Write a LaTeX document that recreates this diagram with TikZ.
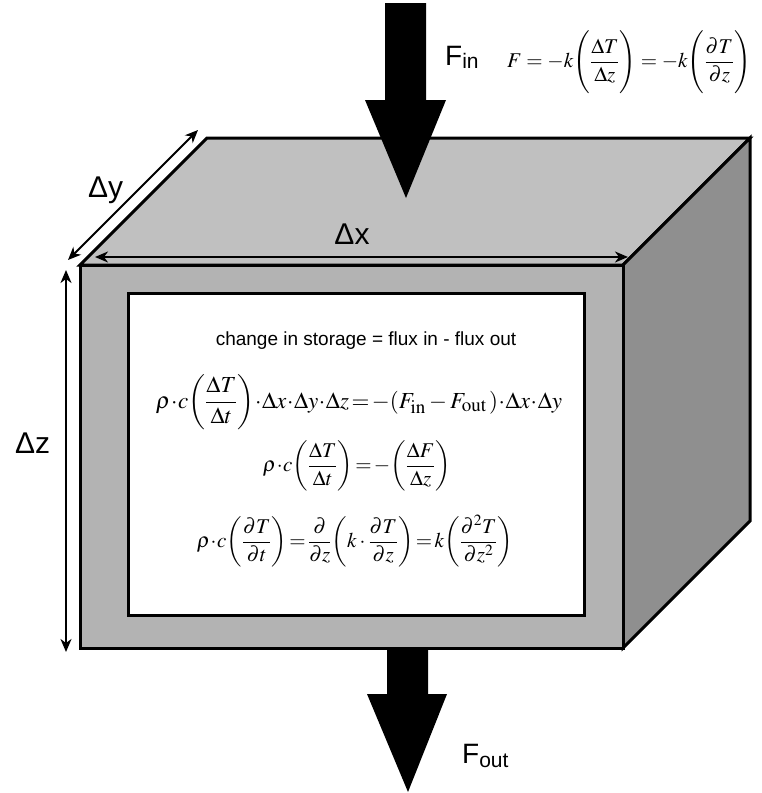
\documentclass[tikz,border=0pt]{standalone}
\usepackage{amsmath}
\usepackage{mathptmx}
\usepackage[no-math]{fontspec}
\setmainfont{Liberation Sans}
\usetikzlibrary{arrows.meta}
\definecolor{topgray}{RGB}{192,192,192}
\definecolor{frontgray}{RGB}{179,179,179}
\definecolor{sidegray}{RGB}{143,143,143}
\newcommand{\tallpar}[1]{\!\left(\rule[-24pt]{0pt}{60pt}#1\right)}
\newcommand{\bigsub}[1]{\mbox{\fontsize{19}{19}\selectfont$\mathrm{#1}$}}
\tikzset{
  face/.style={draw=black,line width=3pt,line join=miter},
  bigarrow/.style={fill=black,draw=none},
  dimarrow/.style={{Stealth[length=13pt,width=11pt,inset=4pt]}-{Stealth[length=13pt,width=11pt,inset=4pt]},line width=2pt},
  lbl/.style={font=\fontsize{30}{36}\selectfont,inner sep=0pt},
  flbl/.style={font=\fontsize{28}{34}\selectfont,inner sep=0pt},
  eqn/.style={font=\fontsize{21}{25}\selectfont,inner sep=0pt},
  txt/.style={font=\fontsize{19}{23}\selectfont,inner sep=0pt}
}
\begin{document}
\begin{tikzpicture}[x=1pt,y=-1pt]
\useasboundingbox (0,0) rectangle (762,793);
% cube corners
\coordinate (ftl) at (80,265);
\coordinate (ftr) at (623,265);
\coordinate (fbl) at (80,648);
\coordinate (fbr) at (623,648);
\coordinate (btl) at (207,138);
\coordinate (btr) at (750,138);
\coordinate (bbr) at (750,521);
% faces
\filldraw[face,fill=topgray] (ftl) -- (btl) -- (btr) -- (ftr) -- cycle;
\filldraw[face,fill=sidegray] (ftr) -- (btr) -- (bbr) -- (fbr) -- cycle;
\filldraw[face,fill=frontgray] (ftl) rectangle (fbr);
\coordinate (wtl) at (128,293);
\coordinate (wbr) at (584,615);
\filldraw[face,fill=white] (wtl) rectangle (wbr);
% flux arrows
\fill[bigarrow] (385,3) -- (426,3) -- (426,100) -- (446,100) -- (406,198) -- (365,100) -- (385,100) -- cycle;
\fill[bigarrow] (387,648) -- (428,648) -- (428,694) -- (447,694) -- (408,792) -- (367,694) -- (387,694) -- cycle;
% dimension arrows
\coordinate (dxl) at (95,257);
\coordinate (dxr) at (628,257);
\draw[dimarrow] (dxl) -- (dxr);
\coordinate (dya) at (68,260);
\coordinate (dyb) at (198,130);
\draw[dimarrow] (dya) -- (dyb);
\coordinate (dzt) at (66,270);
\coordinate (dzb) at (66,652);
\draw[dimarrow] (dzt) -- (dzb);
% labels
\node[flbl,anchor=base west] (fin) at (445,65) {F\raisebox{-3pt}{\fontsize{21}{21}\selectfont in}};
\node[flbl,anchor=base west] (fout) at (462,763) {F\raisebox{-4pt}{\fontsize{21}{21}\selectfont out}};
\node[lbl,anchor=base west] (dylbl) at (88,197) {Δy};
\node[lbl,anchor=base] (dxlbl) at (352,244) {Δx};
\node[lbl,anchor=base west] (dzlbl) at (15,453) {Δz};
% equations
\node[eqn,anchor=base west] (topeq) at (507,67.5)
  {$F = -k\tallpar{\dfrac{\Delta T}{\Delta z}} = -k\tallpar{\dfrac{\partial T}{\partial z}}$};
\node[txt,anchor=base] (cis) at (366,345) {change in storage = flux in - flux out};
\node[eqn,anchor=base,font=\fontsize{23}{27}\selectfont] (eq1) at (359,408)
  {$\rho\!\cdot\! c\!\left(\dfrac{\Delta T}{\Delta t}\right)\!\cdot\!\Delta x\!\cdot\!\Delta y\!\cdot\!\Delta z\!=\!-({F}_{\bigsub{in}}-{F}_{\bigsub{out}}\,)\!\cdot\!\Delta x\!\cdot\!\Delta y$};
\node[eqn,anchor=base] (eq2) at (357,471.5)
  {$\rho\!\cdot\! c\!\left(\dfrac{\Delta T}{\Delta t}\right)\!=\!-\!\left(\dfrac{\Delta F}{\Delta z}\right)$};
\node[eqn,anchor=base] (eq3) at (355,547.5)
  {$\rho\!\cdot\! c\!\left(\dfrac{\partial T}{\partial t}\right)\!=\!\dfrac{\partial}{\partial z}\!\left(k\cdot\dfrac{\partial T}{\partial z}\right)\!=\!k\!\left(\dfrac{\partial^2 T}{\partial z^2}\right)$};
\end{tikzpicture}
\end{document}
